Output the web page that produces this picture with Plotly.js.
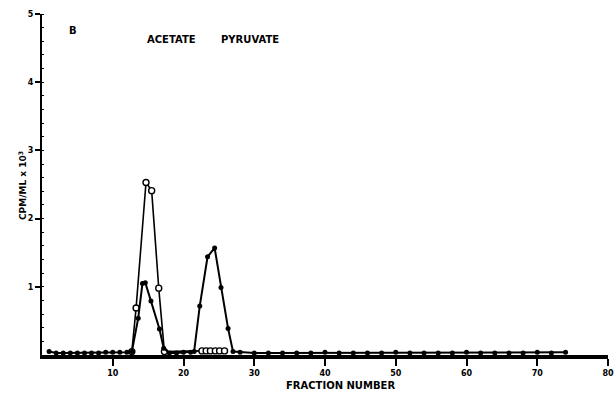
<!DOCTYPE html>
<html>
<head>
<meta charset="utf-8">
<script src="https://cdn.plot.ly/plotly-3.0.1.min.js"></script>
<style>html,body{margin:0;padding:0;background:#fff;}#chart{width:614px;height:401px;}</style>
</head>
<body>
<div id="chart"></div>
<script>
// Filled circles
var filledX = [1,2,3,4,5,6,7,8,9,10,11,12,12.7,13.6,14.2,14.6,15.4,16.6,17.2,18,19,20,21,21.5,22.3,23.4,24.4,25.3,26.3,27,28,30,32,34,36,38,40,42,44,46,48,50,52,54,56,58,60,62,64,66,68,70,72,74];
var filledY = [0.05,0.03,0.03,0.03,0.03,0.03,0.03,0.03,0.04,0.04,0.04,0.04,0.05,0.54,1.05,1.06,0.79,0.38,0.10,0.03,0.03,0.04,0.04,0.05,0.72,1.44,1.57,0.99,0.39,0.05,0.04,0.03,0.03,0.03,0.03,0.03,0.04,0.03,0.03,0.03,0.03,0.04,0.03,0.03,0.03,0.03,0.04,0.03,0.03,0.03,0.03,0.04,0.03,0.04];
// Open circles
var openX = [12.7,13.3,14.7,15.5,16.5,17.3,22.6,23.2,23.8,24.5,25.1,25.8];
var openY = [0.05,0.69,2.53,2.41,0.98,0.05,0.06,0.06,0.06,0.06,0.06,0.06];

var xTicks = [10,20,30,40,50,60,70,80];
var yTicks = [1,2,3,4,5];

var FAM = 'DejaVu Sans, Liberation Sans, Arial, sans-serif';
var bold = {family:FAM, size:8, color:'#000', weight:'bold'};

var traces = [
  {x: openX, y: openY, type:'scatter', mode:'lines+markers',
   line:{color:'#000', width:1.6},
   marker:{symbol:'circle', size:6, color:'#fff', line:{color:'#000', width:1.4}},
   showlegend:false, cliponaxis:false},
  {x: filledX, y: filledY, type:'scatter', mode:'lines+markers',
   line:{color:'#000', width:2},
   marker:{symbol:'circle', size:5, color:'#000'},
   showlegend:false, cliponaxis:false}
];

var layout = {
  width:614, height:401,
  margin:{l:42, r:6, t:14, b:46},
  paper_bgcolor:'#fff', plot_bgcolor:'#fff',
  showlegend:false,
  xaxis:{range:[0,80], tickvals:xTicks, ticktext:xTicks.map(String),
    showgrid:false, zeroline:false, showline:true, linecolor:'#000', linewidth:4,
    ticks:'outside', ticklen:7, tickwidth:2, tickcolor:'#000', tickfont:bold},
  yaxis:{range:[0,5], tickvals:yTicks, ticktext:yTicks.map(String),
    showgrid:false, zeroline:false, showline:true, linecolor:'#000', linewidth:2,
    ticks:'outside', ticklen:5, tickwidth:2, tickcolor:'#000', tickfont:bold,
    minor:{dtick:0.2, ticks:'inside', ticklen:2, tickcolor:'#000', tickwidth:1}},
  annotations:[
    {text:'ACETATE', x:0.182, y:0.947, xref:'paper', yref:'paper', showarrow:false, font:{family:FAM, size:10, color:'#000', weight:'bold'}},
    {text:'PYRUVATE', x:0.313, y:0.947, xref:'paper', yref:'paper', showarrow:false, font:{family:FAM, size:10, color:'#000', weight:'bold'}},
    {text:'B', x:0.044, y:0.974, xref:'paper', yref:'paper', showarrow:false, font:{family:FAM, size:10, color:'#000', weight:'bold'}},
    {text:'FRACTION NUMBER', x:0.528, y:-0.111, xref:'paper', yref:'paper', showarrow:false, font:{family:FAM, size:10, color:'#000', weight:'bold'}},
    {text:'CPM/ML x 10<sup>3</sup>', x:-0.048, y:0.498, xref:'paper', yref:'paper', showarrow:false, textangle:-90, font:{family:FAM, size:9, color:'#000', weight:'bold'}}
  ]
};

Plotly.newPlot('chart', traces, layout, {displayModeBar:false, staticPlot:true});
</script>
</body>
</html>
